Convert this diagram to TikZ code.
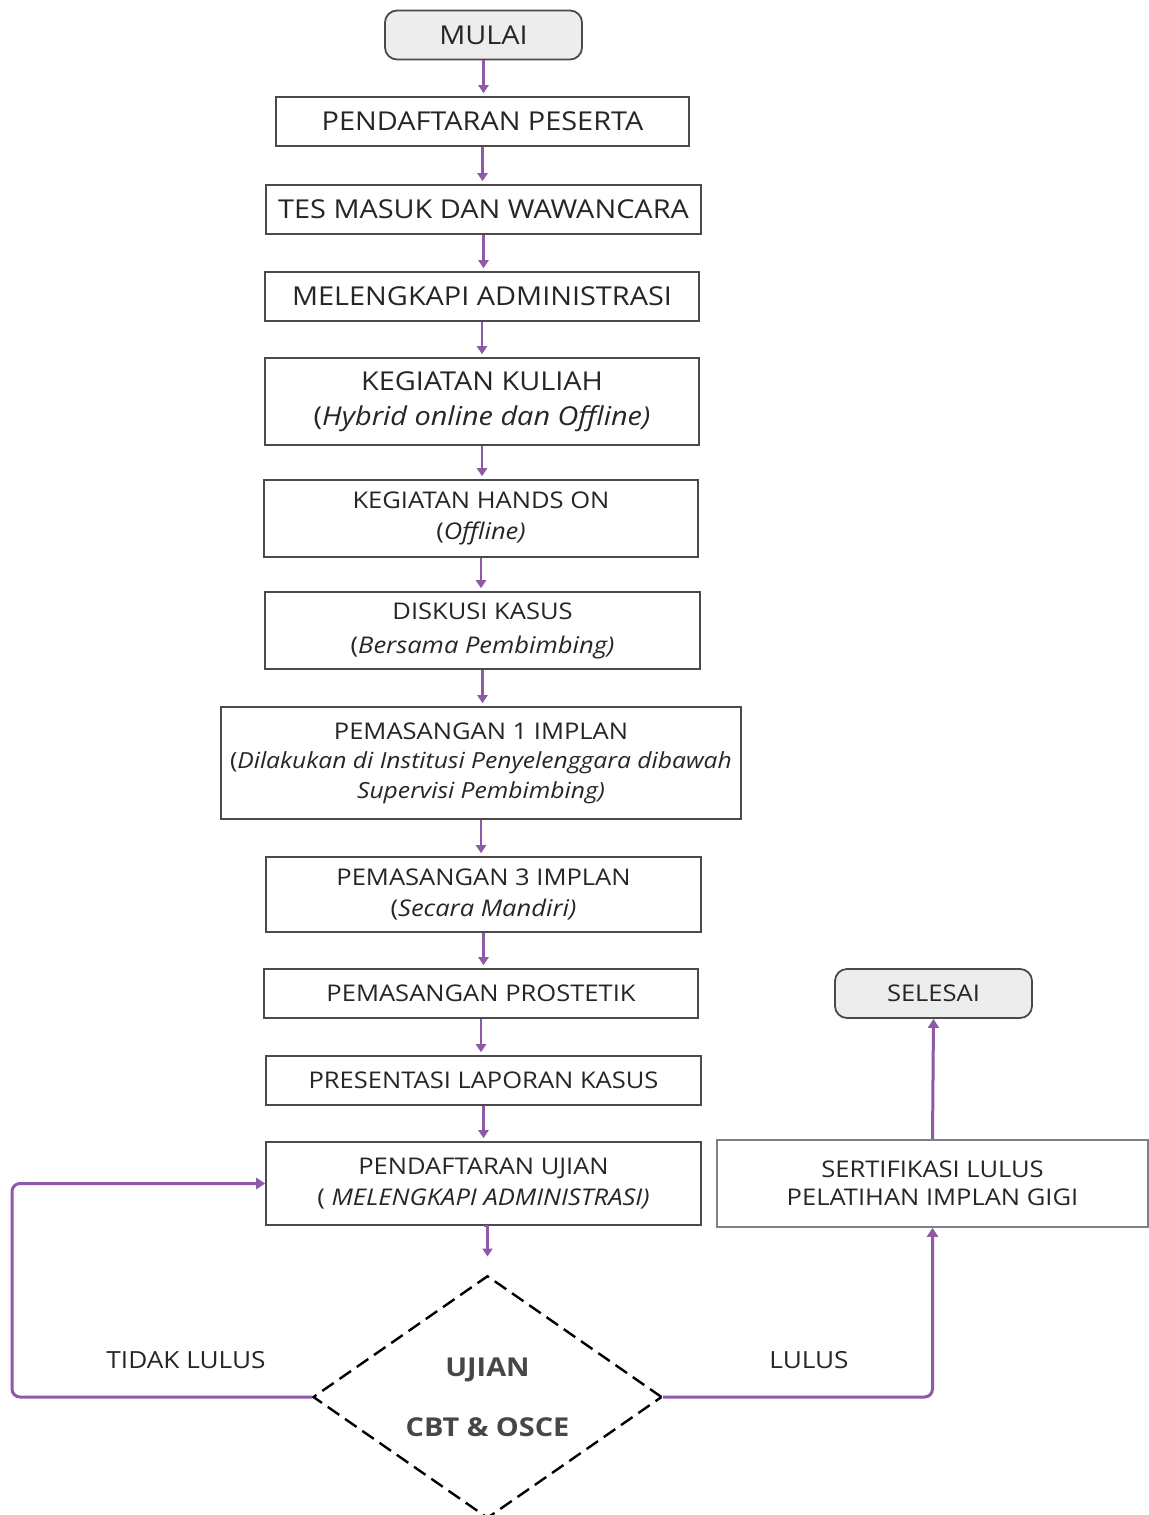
\documentclass[tikz,border=0pt]{standalone}
\usepackage{fontspec}
\setmainfont[FakeStretch=1.11]{Open Sans}
\usetikzlibrary{arrows.meta,shapes.geometric}
\definecolor{arr}{HTML}{8E5AA8}
\definecolor{txt}{HTML}{262626}
\definecolor{bord}{HTML}{4A4A4A}
\definecolor{term}{HTML}{EDEDED}
\begin{document}
\begin{tikzpicture}[x=0.5pt,y=-0.5pt,
  box/.style={draw=bord, line width=0.8pt, fill=white, text=txt, align=center, inner sep=0pt},
  big/.style={font=\fontsize{13}{17.5}\selectfont},
  small/.style={font=\fontsize{11.5}{15.5}\selectfont},
  term/.style={box, fill=term, rounded corners=6pt, line width=0.9pt},
  sarr/.style={draw=arr, line width=1.2pt, -{Triangle[length=4pt,width=5pt]}, shorten >=1.5pt},
  larr/.style={draw=arr, line width=1.5pt, rounded corners=4pt, -{Triangle[length=4.5pt,width=5.5pt]}},
  lbl/.style={text=txt, font=\fontsize{11.8}{14}\selectfont, inner sep=0pt}
]
\useasboundingbox (0,0) rectangle (1148,1515);
\fill[white] (0,0) rectangle (1148,1515);

\node[term, big, minimum width=98.5pt, minimum height=24.5pt] (start) at (483.5,35) {MULAI};
\node[box, big, minimum width=206.5pt, minimum height=24.5pt] (b1) at (482.5,121.5) {PENDAFTARAN PESERTA};
\node[box, big, minimum width=217.5pt, minimum height=24.5pt] (b2) at (483.5,209.5) {TES MASUK DAN WAWANCARA};
\node[box, big, minimum width=217pt, minimum height=24.5pt] (b3) at (482,296.5) {MELENGKAPI ADMINISTRASI};
\node[box, big, minimum width=217pt, minimum height=43.5pt] (b4) at (482,401.5) {KEGIATAN KULIAH\\(\textit{Hybrid online dan Offline)}};
\node[box, small, minimum width=217pt, minimum height=38.5pt] (b5) at (481,518.5) {KEGIATAN HANDS ON\\(\textit{Offline)}};
\node[box, small, font=\fontsize{11.5}{17}\selectfont, minimum width=217.5pt, minimum height=38.5pt] (b6) at (482.5,630.5) {DISKUSI KASUS\\(\textit{Bersama Pembimbing)}};
\node[box, small, font=\fontsize{11.5}{14.8}\selectfont, minimum width=260pt, minimum height=56pt] (b7) at (481,763) {PEMASANGAN 1 IMPLAN\\{\fontsize{11.1}{14.8}\selectfont(\textit{Dilakukan di Institusi Penyelenggara dibawah}}\\{\fontsize{11.1}{14.8}\selectfont\textit{Supervisi Pembimbing)}}};
\node[box, small, minimum width=217.5pt, minimum height=37.5pt] (b8) at (483.5,894.5) {PEMASANGAN 3 IMPLAN\\(\textit{Secara Mandiri)}};
\node[box, small, minimum width=217pt, minimum height=24.5pt] (b9) at (481,993.5) {PEMASANGAN PROSTETIK};
\node[box, small, minimum width=217.5pt, minimum height=24.5pt] (b10) at (483.5,1080.5) {PRESENTASI LAPORAN KASUS};
\node[box, small, minimum width=217.5pt, minimum height=41.5pt] (b11) at (483.5,1183.5) {PENDAFTARAN UJIAN\\( \textit{MELENGKAPI ADMINISTRASI)}};
\node[draw=black, line width=1.2pt, dash pattern=on 7pt off 3.5pt, shape=diamond, inner sep=0pt,
      minimum width=174.5pt, minimum height=119pt, text=txt!85, align=center,
      font=\fontsize{13}{15}\selectfont\bfseries] (dia) at (487.5,1397) {UJIAN\\[15pt]CBT \& OSCE};
\node[box, small, font=\fontsize{11.5}{14}\selectfont, draw=bord!70, minimum width=215.5pt, minimum height=43.5pt] (cert) at (932.5,1183.5) {SERTIFIKASI LULUS\\PELATIHAN IMPLAN GIGI};
\node[term, small, minimum width=98.5pt, minimum height=24.5pt] (end) at (933.5,993.5) {SELESAI};

\draw[sarr] (start.south) -- (start.south |- b1.north);
\draw[sarr] (b1.south) -- (b1.south |- b2.north);
\draw[sarr] (b2.south) -- (b2.south |- b3.north);
\draw[sarr] (b3.south) -- (b3.south |- b4.north);
\draw[sarr] (b4.south) -- (b4.south |- b5.north);
\draw[sarr] (b5.south) -- (b5.south |- b6.north);
\draw[sarr] (b6.south) -- (b6.south |- b7.north);
\draw[sarr] (b7.south) -- (b7.south |- b8.north);
\draw[sarr] (b8.south) -- (b8.south |- b9.north);
\draw[sarr] (b9.south) -- (b9.south |- b10.north);
\draw[sarr] (b10.south) -- (b10.south |- b11.north);
\draw[sarr, shorten >=9pt] (b11.south) -- (b11.south -| dia.north) -- (dia.north);

\coordinate (lc) at (12,1397);
\draw[larr] (dia.west) -- (lc) |- (b11.west);
\draw[larr] (dia.east) -| (cert.south);
\draw[larr] (cert.north) -- (end.south);

\node[lbl] (tl) at (186,1360) {TIDAK LULUS};
\node[lbl] (ll) at (809,1360) {LULUS};
\end{tikzpicture}
\end{document}
